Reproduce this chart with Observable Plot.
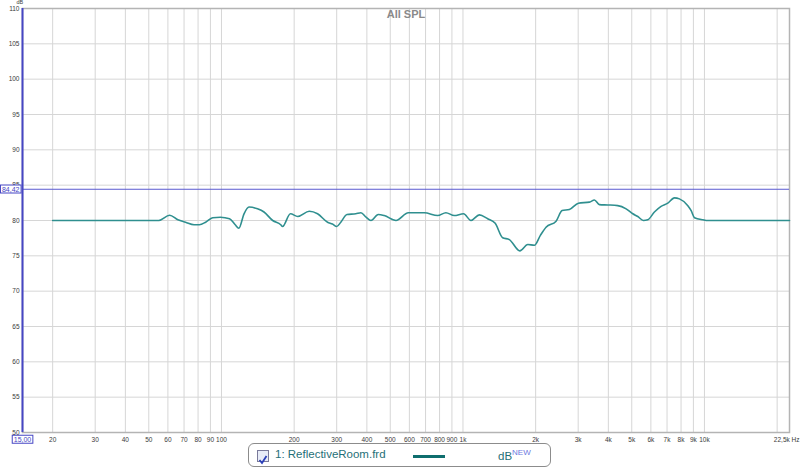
<!DOCTYPE html>
<html>
<head>
<meta charset="utf-8">
<script src="https://cdn.jsdelivr.net/npm/d3@7"></script>
<script src="https://cdn.jsdelivr.net/npm/@observablehq/plot@0.6"></script>
<style>
  html, body { margin: 0; padding: 0; background: #fff; }
  #wrap { width: 800px; height: 471px; position: relative; overflow: hidden; }
  #legend { position: absolute; left: 248px; top: 443px; width: 303px; height: 24px;
    border: 1px solid #8c8c8c; border-radius: 6px; background: #fff;
    font-family: "Liberation Sans", Arial, sans-serif; box-sizing: border-box; }
  #legend .cb { position: absolute; left: 8px; top: 6px; width: 10px; height: 10px;
    border: 1px solid #7a7a9a; background: #e8ecf8; }
  #legend .lbl { position: absolute; left: 26px; top: 4px; font-size: 11.5px; color: #1f6f78; white-space: nowrap; }
  #legend .sample { position: absolute; left: 164px; top: 11px; width: 32px; height: 3px; background: #0f6e6e; }
  #legend .unit { position: absolute; left: 249px; top: 4px; font-size: 11.5px; color: #1f6f78; white-space: nowrap; }
  #legend .unit sup { font-size: 8px; color: #6a78e0; vertical-align: 5px; }
</style>
</head>
<body>
<div id="wrap"><div id="chart"></div>
<div id="legend">
  <div class="cb"><svg width="10" height="10" viewBox="0 0 10 10"><path d="M1.5 5 L4 8 L8.5 1" fill="none" stroke="#2b3fb8" stroke-width="1.8"/></svg></div>
  <div class="lbl">1: ReflectiveRoom.frd</div>
  <div class="sample"></div>
  <div class="unit">dB<sup>NEW</sup></div>
</div>
</div>
<script>
// Frequency response (Hz) and SPL (dB)
const freqs = [20, 30, 40, 50, 55, 61, 66, 71, 77, 81, 86, 92, 99, 108, 114, 118, 124, 130, 141, 150,
  163, 176, 179, 193, 207, 231, 250, 275, 288, 300, 312, 331, 360, 378, 397, 416, 446, 472, 528, 594,
  692, 786, 850, 920, 1006, 1079, 1169, 1266, 1360, 1460, 1556, 1720, 1855, 1976, 2092, 2208, 2430, 2574, 2758, 3006,
  3340, 3502, 3674, 3980, 4376, 4738, 5050, 5296, 5588, 5826, 6206, 6614, 7052, 7510, 7878, 8536, 8810, 9094, 9852, 10334,
  15000, 22500];
const spl = [80.0, 80.0, 80.0, 80.0, 80.0, 80.75, 80.1, 79.76, 79.4, 79.4, 79.76, 80.4, 80.47, 80.24, 79.4, 78.9, 80.95, 81.9, 81.65, 81.2,
  80.0, 79.4, 79.15, 80.95, 80.56, 81.3, 80.95, 79.76, 79.5, 79.15, 79.76, 80.85, 80.95, 81.1, 80.47, 80.0, 80.85, 80.7, 80.0, 81.1,
  81.1, 80.7, 81.1, 80.7, 80.95, 80.0, 80.8, 80.24, 79.6, 77.56, 77.3, 75.7, 76.6, 76.5, 77.9, 79.05, 79.9, 81.4, 81.55, 82.45,
  82.6, 82.9, 82.25, 82.2, 82.1, 81.65, 80.95, 80.56, 80.0, 80.1, 81.2, 82.0, 82.45, 83.2, 83.06, 82.1, 81.4, 80.4, 80.1, 80.0,
  80.0, 80.0];

const xGrid = [20, 30, 40, 50, 60, 70, 80, 90, 100, 200, 300, 400, 500, 600, 700, 800, 900,
  1000, 2000, 3000, 4000, 5000, 6000, 7000, 8000, 9000, 10000, 20000];
const xLabeled = [20, 30, 40, 50, 60, 70, 80, 90, 100, 200, 300, 400, 500, 600, 700, 800, 900,
  1000, 2000, 3000, 4000, 5000, 6000, 7000, 8000, 9000, 10000];
const yTicks = [50, 55, 60, 65, 70, 75, 80, 85, 90, 95, 100, 105, 110];
const xDomain = [15, 22500];
const yDomain = [50, 110];
const cursorLevel = [84.42];
const title = "All SPL";
const unitLabel = "dB";
const xStartLabel = "15,00";
const xEndLabel = "22,5k Hz";
const cursorLabel = "84,42";

const data = freqs.map((f, i) => ({f, v: spl[i]}));
const fmt = d => d >= 1000 ? (d / 1000) + "k" : String(d);
const blue = "#4646c4";
const labelColor = "#3a3a3a";

const chart = Plot.plot({
  width: 800,
  height: 443,
  marginLeft: 22,
  marginRight: 11,
  marginTop: 8,
  marginBottom: 11,
  style: {fontFamily: "'Liberation Sans', Arial, sans-serif", fontSize: "6.5px", background: "#fff", overflow: "visible"},
  x: {type: "log", domain: xDomain, axis: null},
  y: {domain: yDomain, axis: null},
  marks: [
    Plot.ruleX(xGrid, {stroke: "#d6d6d6", strokeWidth: 1}),
    Plot.ruleY(yTicks, {stroke: "#d6d6d6", strokeWidth: 1}),
    Plot.frame({stroke: "#b4b4b4", strokeWidth: 1.5}),
    Plot.text(xLabeled, {x: d => d, text: fmt, frameAnchor: "bottom", dy: 7, lineAnchor: "middle", textAnchor: "middle", fill: labelColor}),
    Plot.text(yTicks, {y: d => d, text: d => String(d), frameAnchor: "left", dx: -3, lineAnchor: "middle", textAnchor: "end", fill: labelColor}),
    Plot.ruleY(cursorLevel, {stroke: "#5a5ad0", strokeWidth: 1}),
    Plot.ruleX([xDomain[0]], {stroke: blue, strokeWidth: 2}),
    Plot.line(data, {x: "f", y: "v", stroke: "#2f8f8f", strokeWidth: 1.6, curve: "monotone-x"}),
    Plot.text([title], {frameAnchor: "top", dy: 6, lineAnchor: "middle", fontSize: 11, fontWeight: "bold", fill: "#8a8a8a"}),
    Plot.text([unitLabel], {frameAnchor: "top-left", dx: -6, dy: -6, lineAnchor: "middle", fontSize: 5.5, fill: labelColor}),
    Plot.text([xEndLabel], {x: () => xDomain[1], frameAnchor: "bottom", dx: 10, dy: 7, lineAnchor: "middle", textAnchor: "end", fill: labelColor}),
    Plot.text([xStartLabel], {x: () => xDomain[0], frameAnchor: "bottom", dy: 7, lineAnchor: "middle", textAnchor: "middle", fill: blue, fontSize: 7}),
    Plot.text([cursorLabel], {y: () => cursorLevel[0], frameAnchor: "left", dx: -3, lineAnchor: "middle", textAnchor: "end", fill: blue, fontSize: 7})
  ]
});
document.getElementById("chart").appendChild(chart);

// draw boxes around the blue value labels
d3.select(chart).selectAll("text").filter(function() {
  return this.textContent === xStartLabel || this.textContent === cursorLabel;
}).each(function() {
  const b = this.getBBox();
  const t = this.getAttribute("transform");
  const rect = d3.select(this.parentNode).insert("rect", () => this)
    .attr("x", b.x - 1.5).attr("y", b.y - 0.5)
    .attr("width", b.width + 3).attr("height", b.height + 1)
    .attr("fill", "#fff").attr("stroke", blue).attr("stroke-width", 1);
  if (t) rect.attr("transform", t);
});
</script>
</body>
</html>
